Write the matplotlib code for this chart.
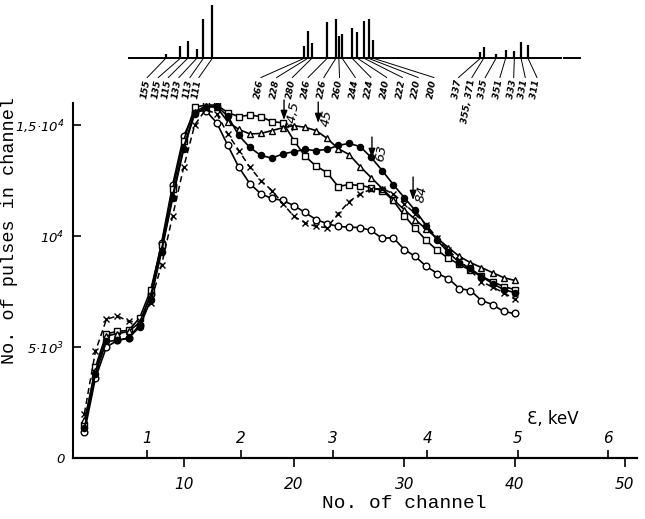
import matplotlib
matplotlib.use('Agg')
import matplotlib.pyplot as plt
from matplotlib import font_manager
import numpy as np


def have(name):
    try:
        font_manager.findfont(font_manager.FontProperties(family=name),
                              fallback_to_default=False)
        return True
    except Exception:
        return False


NARROW = 'Liberation Sans Narrow' if have('Liberation Sans Narrow') else 'DejaVu Sans'
SC = 1.15 if NARROW != 'DejaVu Sans' else 1.0
MONO = 'Liberation Mono' if have('Liberation Mono') else 'DejaVu Sans Mono'

plt.rcParams['mathtext.fontset'] = 'custom'
plt.rcParams['mathtext.it'] = NARROW + ':italic'
plt.rcParams['mathtext.rm'] = NARROW + ':italic'
plt.rcParams['font.family'] = [NARROW, 'DejaVu Sans']

# ---------------- data ----------------
channels = list(range(1, 41))

open_circles = [1150, 3600, 5000, 5300, 5400, 6000, 7400, 9700, 12300, 14500,
                15600, 15650, 15100, 14080, 13100, 12360, 11900, 11690, 11600, 11370,
                11060, 10740, 10560, 10430, 10400, 10380, 10250, 9890, 9930, 9390,
                9080, 8630, 8310, 8085, 7635, 7545, 7095, 6914, 6600, 6510]

open_squares = [1500, 4100, 5600, 5700, 5750, 6300, 7550, 9600, 12100, 14300,
                15800, 15900, 15900, 15560, 15380, 15450, 15380, 15150, 15100, 14300,
                13600, 13150, 12860, 12230, 12320, 12275, 12185, 12050, 11600, 10920,
                10340, 9800, 9350, 9000, 8720, 8450, 8180, 7950, 7725, 7590]

filled_circles = [1350, 3800, 5250, 5300, 5400, 5900, 7100, 9300, 11700, 13900,
                  15500, 15800, 15850, 15400, 14530, 13990, 13630, 13510, 13700, 13800,
                  13900, 13850, 13900, 14080, 14170, 14030, 13540, 12950, 12320, 11730,
                  11150, 10470, 9800, 9260, 8800, 8540, 8176, 7860, 7590, 7450]

open_triangles = [1700, 3900, 5500, 5600, 5700, 6100, 7300, 9400, 11800, 14000,
                  15600, 15850, 15800, 15150, 14800, 14600, 14620, 14750, 14880, 14970,
                  14900, 14750, 14400, 13940, 13670, 13130, 12630, 12140, 11640, 11190,
                  10740, 10300, 9890, 9480, 9080, 8800, 8580, 8350, 8130, 8000]

crosses = [2000, 4800, 6250, 6400, 6150, 6150, 7000, 8700, 10900, 13100,
           15000, 15700, 15500, 14600, 13850, 13100, 12500, 12050, 11460, 10880,
           10600, 10430, 10380, 11000, 11550, 11900, 12100, 12140, 11900, 11450,
           11000, 10500, 9900, 9350, 8900, 8450, 7950, 7700, 7450, 7160]

# arrows: label, channel, tail value, tip value
arrow_labels = ['34,5', '45', '63', '84']
arrow_channels = [19.1, 22.2, 27.07, 30.8]
arrow_tail = [16126, 16036, 14460, 12658]
arrow_tip = [15225, 15090, 13514, 11622]

# energy scale (keV) and its channel positions
energy_ticks = [1, 2, 3, 4, 5, 6]
energy_tick_channels = [6.65, 15.2, 23.55, 32.1, 40.3, 48.5]

channel_ticks = [10, 20, 30, 40, 50]
y_ticks = [0, 5000, 10000, 15000]
y_ticklabels = ['0', '5·10$^{3}$', '10$^{4}$', '1,5·10$^{4}$']

# line spectrum at the top (channel positions, relative intensities, labels)
line_channels = [8.38, 9.70, 10.37, 11.19, 11.79, 12.60,
                 20.93, 21.26, 21.62, 23.01, 23.80, 24.07, 24.37, 25.28, 25.76,
                 26.37, 26.76, 27.21,
                 36.90, 37.20, 38.32, 39.19, 39.98, 40.59, 41.22]
line_intensity = [9, 23, 32, 17, 74, 100,
                  23, 51, 28, 68, 74, 42, 45, 57, 49, 70, 75, 34,
                  11, 21, 8, 15, 13, 30, 25]
line_labels = ['155', '135', '115', '133', '113', '111',
               '266', '228', '280', '246', '226', '260', '244', '224', '240',
               '222', '220', '200',
               '337', '355, 371', '335', '351', '333', '331', '311']

# layout: where the rotated labels of the line spectrum sit (channel units)
label_slots = [6.56, 7.56, 8.47, 9.43, 10.43, 11.24,
               16.87, 18.29, 19.72, 21.14, 22.57, 23.99, 25.42, 26.84, 28.27,
               29.69, 31.12, 32.54,
               34.78, 35.99, 37.20, 38.53, 39.78, 40.83, 41.89]

# ---------------- figure ----------------
fig = plt.figure(figsize=(6.45, 5.19), dpi=100)
XL = (-0.06, 51.1)
ax = fig.add_axes([0.1127, 0.1175, 0.8749, 0.6844])
ax.set_xlim(*XL)
ax.set_ylim(0, 16000)
for s in ('top', 'right'):
    ax.spines[s].set_visible(False)
for s in ('left', 'bottom'):
    ax.spines[s].set_linewidth(1.5)

it = dict(style='italic', family=[NARROW, 'DejaVu Sans'])

ax.set_xticks(channel_ticks)
ax.set_xticklabels([str(c) for c in channel_ticks], fontsize=11 * SC, **it)
ax.tick_params(axis='x', direction='out', length=6.5, width=1.2, pad=7)
ax.set_yticks(y_ticks)
ax.set_yticklabels(y_ticklabels, fontsize=9.5 * SC, **it)
ax.tick_params(axis='y', direction='in', length=5.5, width=1.2, pad=6)

# energy axis on top of the channel axis line
axE = ax.twiny()
axE.set_xlim(*XL)
for s in ('left', 'right', 'bottom'):
    axE.spines[s].set_visible(False)
axE.spines['top'].set_position(('axes', 0))
axE.spines['top'].set_linewidth(1.5)
axE.set_xticks(energy_tick_channels)
axE.set_xticklabels([str(e) for e in energy_ticks], fontsize=11 * SC, **it)
axE.tick_params(axis='x', direction='out', length=6, width=1.2, pad=3)
ax.text(43.5, 1750, 'Ɛ, keV', fontsize=12, ha='center', va='center',
        family=['DejaVu Sans'])

lk = dict(color='black', lw=1.2, zorder=3)
mk = dict(mec='black', mew=1.0)
ax.plot(channels, open_circles, marker='o', ms=4.8, mfc='white', **mk, **lk)
ax.plot(channels, open_squares, marker='s', ms=4.5, mfc='white', **mk, **lk)
ax.plot(channels, open_triangles, marker='^', ms=5.0, mfc='white', **mk, **lk)
ax.plot(channels, filled_circles, marker='o', ms=4.4, mfc='black', **mk, **lk)
ax.plot(channels, crosses, marker='x', ms=3.8, ls=(0, (4, 2.5)),
        **mk, color='black', lw=1.1, zorder=3)

for lab, c, t0, t1 in zip(arrow_labels, arrow_channels, arrow_tail, arrow_tip):
    ax.annotate('', xy=(c, t1), xytext=(c, t0),
                arrowprops=dict(arrowstyle='-|>,head_length=0.55,head_width=0.2',
                                lw=1.0, color='black', shrinkA=0, shrinkB=0),
                annotation_clip=False)
    ax.text(c + 0.8, (t0 + t1) / 2 - 250, lab, rotation=80, ha='center',
            va='center', fontsize=9.5 * SC, clip_on=False, **it)

fig.text(0.015, 0.555, 'No. of pulses in channel', rotation=90, ha='center',
         va='center', fontsize=13.3, family=MONO)
fig.text(0.627, 0.030, 'No. of channel', ha='center', va='center',
         fontsize=14, family=MONO)

# line spectrum
axS = fig.add_axes([0.1127, 0.7495, 0.8749, 0.2505])
axS.set_xlim(*XL)
axS.set_ylim(130, 0)
axS.axis('off')
base = 58.3
axS.plot([5.05, 44.2], [base, base], color='black', lw=1.4)
axS.plot([44.5, 45.97], [base, base], color='black', lw=1.4)
axS.vlines(line_channels, base, base - np.array(line_intensity) * 0.53,
           color='black', lw=1.6)
for c, slot, lab in zip(line_channels, label_slots, line_labels):
    axS.plot([c, slot + 0.14], [base, 77.5], color='black', lw=0.7)
    axS.text(slot + 0.14, 79.5, lab, rotation=80, ha='right', va='center',
             rotation_mode='anchor', fontsize=6.6 * SC, weight='bold', **it)

fig.savefig('out.png', dpi=100, facecolor='white')
